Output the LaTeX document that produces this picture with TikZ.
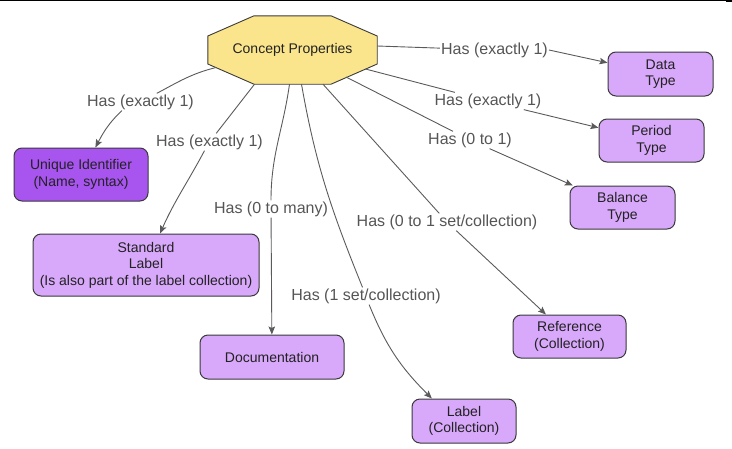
\documentclass[tikz,border=0pt]{standalone}
\usepackage{fontspec}
\setmainfont{Liberation Sans}
\usetikzlibrary{arrows.meta}

\definecolor{conceptyellow}{HTML}{FBE58C}
\definecolor{lilac}{HTML}{D8A8FA}
\definecolor{violet}{HTML}{A855F0}
\definecolor{boxline}{HTML}{3A3A3A}
\definecolor{nodetext}{HTML}{222222}
\definecolor{phrasetext}{HTML}{555555}
\definecolor{linkgray}{HTML}{5A5A5A}

\newcommand\cmapnodefont{\fontsize{14}{16.5}\selectfont}
\newcommand\cmapphrasefont{\fontsize{16}{18}\selectfont}

\pgfdeclarelayer{background}
\pgfsetlayers{background,main}

\begin{document}
\begin{tikzpicture}[x=1pt,y=-1pt,
  concept/.style={rectangle, minimum width=169pt, minimum height=68pt,
    inner sep=0pt, font=\cmapnodefont, text=nodetext},
  octagon/.style={draw=boxline, line width=0.9pt, fill=conceptyellow},
  box/.style={draw=boxline, line width=1pt, rounded corners=8pt,
    fill=lilac, align=center, font=\cmapnodefont, text=nodetext,
    inner sep=2pt},
  phrase/.style={font=\cmapphrasefont, text=phrasetext, inner sep=1pt},
  link/.style={draw=linkgray, line width=0.9pt},
  arrowlink/.style={link, -{Stealth[length=8pt,width=6.5pt,inset=1.5pt]}},
]
\useasboundingbox (0,0) rectangle (732,448);

% rule along the top edge
\draw[black, line width=1.2pt] (0,0.6) -- (726,0.6);
\fill[black] (726,0) rectangle (732,2.2);

% central concept: text node with an octagonal outline behind it
\node[concept] (cp) at (292.5,50) {Concept Properties};
\begin{pgfonlayer}{background}
  \path[octagon] ([xshift=-38.5pt]cp.north) -- ([xshift=38.5pt]cp.north)
    -- ([yshift=14pt]cp.east) -- ([yshift=-14pt]cp.east)
    -- ([xshift=38.5pt]cp.south) -- ([xshift=-38.5pt]cp.south)
    -- ([yshift=-14pt]cp.west) -- ([yshift=14pt]cp.west) -- cycle;
\end{pgfonlayer}

% related concepts
\node[box, minimum width=105pt, minimum height=44pt] (dt) at (660.5,74) {Data\\Type};
\node[box, minimum width=105pt, minimum height=43pt] (pt) at (651.5,140.5) {Period\\Type};
\node[box, minimum width=105pt, minimum height=43pt] (bt) at (622.5,207.5) {Balance\\Type};
\node[box, fill=violet, minimum width=134pt, minimum height=53pt] (ui) at (81,174.5) {Unique Identifier\\(Name, syntax)};
\node[box, minimum width=226pt, minimum height=62pt] (sl) at (146,265) {Standard\\Label\\(Is also part of the label collection)};
\node[box, minimum width=144pt, minimum height=44pt] (doc) at (272,357) {Documentation};
\node[box, minimum width=104pt, minimum height=44pt] (lc) at (464,421) {Label\\(Collection)};
\node[box, minimum width=113pt, minimum height=43pt] (rc) at (569.5,336.5) {Reference\\(Collection)};

% linking phrases
\node[phrase] (l1) at (494.5,50) {Has (exactly 1)};
\node[phrase] (l2) at (488,101) {Has (exactly 1)};
\node[phrase] (l3) at (470,140) {Has (0 to 1)};
\node[phrase] (l4) at (447,222) {Has (0 to 1 set/collection)};
\node[phrase] (l5) at (366,296) {Has (1 set/collection)};
\node[phrase] (l6) at (271,209) {Has (0 to many)};
\node[phrase] (l7) at (209.5,142) {Has (exactly 1)};
\node[phrase] (l8) at (140.5,102) {Has (exactly 1)};

% concept -> phrase (starting on the octagon outline)
\draw[link] ([yshift=4pt]cp.east) -- (l1);
\draw[link] ([shift={(73pt,-19pt)}]cp.center) -- (l2);
\draw[link] ([shift={(53.5pt,-27pt)}]cp.center) -- (l3);
\draw[link] ([xshift=30.5pt]cp.south) -- (l4);
\draw[link] ([xshift=9pt]cp.south) to[out=-80, in=112] (l5);
\draw[link] ([xshift=-3pt]cp.south) to[out=-98, in=90] (l6);
\draw[link] ([xshift=-38pt]cp.south) -- (l7);
\draw[link] ([shift={(-76.5pt,-17.5pt)}]cp.center) to[out=194, in=28] (l8);

% phrase -> concept
\draw[arrowlink] (l1.east) -- (dt.168);
\draw[arrowlink] (l2) -- (pt);
\draw[arrowlink] (l3) -- (bt);
\draw[arrowlink] (l4) -- (rc);
\draw[arrowlink] (l5.-70) to[out=-68, in=135] (lc.145);
\draw[arrowlink] (l6) -- (doc);
\draw[arrowlink] (l7.-120) to[out=-118, in=66] (sl);
\draw[arrowlink] (l8.-155) to[out=-137, in=62] (ui);
\end{tikzpicture}
\end{document}
